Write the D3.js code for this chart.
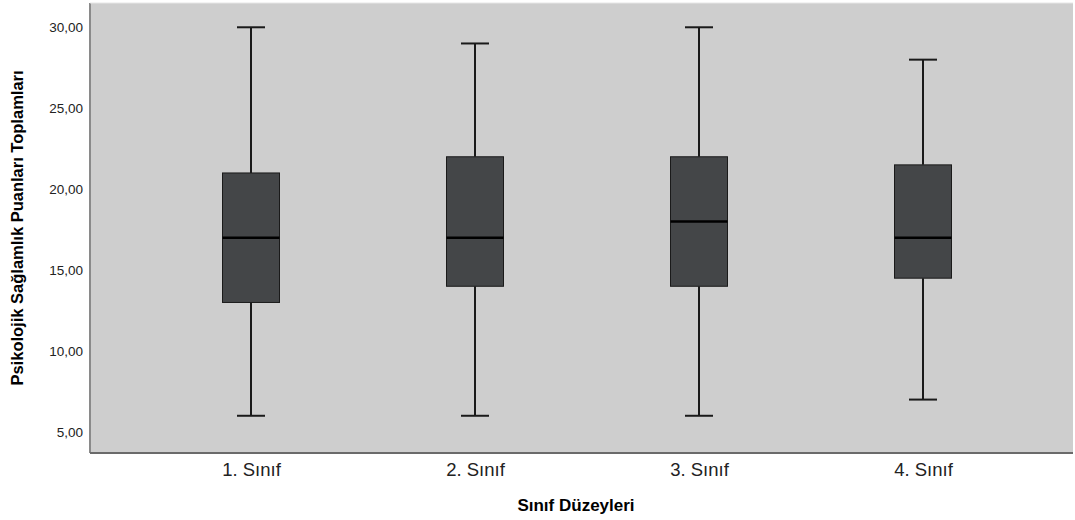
<!DOCTYPE html>
<style type="text/css">
  body { margin: 0; background: #fff; }
  text { font-family: "Liberation Sans", Arial, sans-serif; }
  .box { fill: #444648; stroke: #1a1a1a; stroke-width: 1; }
  .median { stroke: #000; stroke-width: 2.5; }
  .whisker { stroke: #1a1a1a; stroke-width: 2; }
</style>
<svg width="1075" height="520"></svg>
<script src="https://d3js.org/d3.v7.min.js"></script>
<script>

var groups = ["1. Sınıf", "2. Sınıf", "3. Sınıf", "4. Sınıf"];
var mins    = [6, 6, 6, 7];
var q1s     = [13, 14, 14, 14.5];
var medians = [17, 17, 18, 17];
var q3s     = [21, 22, 22, 21.5];
var maxs    = [30, 29, 30, 28];
var yTicks  = [5, 10, 15, 20, 25, 30];

var svg = d3.select("svg"),
    margin = {top: 3, right: 2, bottom: 67, left: 90},
    width = +svg.attr("width") - margin.left - margin.right,
    height = +svg.attr("height") - margin.top - margin.bottom,
    g = svg.append("g").attr("transform", "translate(" + margin.left + "," + margin.top + ")");

var data = groups.map(function(d, i) {
  return {name: d, min: mins[i], q1: q1s[i], med: medians[i], q3: q3s[i], max: maxs[i]};
});

var x = d3.scalePoint()
    .domain(groups)
    .range([161, 833]);

var y = d3.scaleLinear()
    .domain([3.7, 31.5])
    .range([height, 0]);

var boxW = 57, capW = 28;

// plot background
g.append("rect")
    .attr("width", width)
    .attr("height", height)
    .attr("fill", "#cecece");

var box = g.selectAll(".grp")
  .data(data)
  .enter().append("g")
    .attr("transform", function(d) { return "translate(" + x(d.name) + ",0)"; });

// whiskers
box.append("line").attr("class", "whisker")
    .attr("y1", function(d) { return y(d.max); })
    .attr("y2", function(d) { return y(d.q3); });
box.append("line").attr("class", "whisker")
    .attr("y1", function(d) { return y(d.q1); })
    .attr("y2", function(d) { return y(d.min); });
box.append("line").attr("class", "whisker")
    .attr("x1", -capW / 2).attr("x2", capW / 2)
    .attr("y1", function(d) { return y(d.max); })
    .attr("y2", function(d) { return y(d.max); });
box.append("line").attr("class", "whisker")
    .attr("x1", -capW / 2).attr("x2", capW / 2)
    .attr("y1", function(d) { return y(d.min); })
    .attr("y2", function(d) { return y(d.min); });

box.append("rect").attr("class", "box")
    .attr("x", -boxW / 2)
    .attr("width", boxW)
    .attr("y", function(d) { return y(d.q3); })
    .attr("height", function(d) { return y(d.q1) - y(d.q3); });

box.append("line").attr("class", "median")
    .attr("x1", -boxW / 2).attr("x2", boxW / 2)
    .attr("y1", function(d) { return y(d.med); })
    .attr("y2", function(d) { return y(d.med); });

// axes
var fmt = function(v) { return d3.format(".2f")(v).replace(".", ","); };

g.append("g")
    .call(d3.axisLeft(y).tickValues(yTicks).tickFormat(fmt).tickSize(0).tickPadding(7))
    .call(function(a) {
      a.select(".domain").remove();
      a.selectAll("text").attr("font-size", 13.5).attr("fill", "#222").style("font-family", "Liberation Sans, Arial, sans-serif");
    });

g.append("g")
    .attr("transform", "translate(0," + height + ")")
    .call(d3.axisBottom(x).tickSize(0).tickPadding(10))
    .call(function(a) {
      a.select(".domain").remove();
      a.selectAll("text").attr("font-size", 18.5).attr("fill", "#222").style("font-family", "Liberation Sans, Arial, sans-serif");
    });

g.append("line")
    .attr("x1", 0).attr("x2", 0).attr("y1", 0).attr("y2", height)
    .attr("stroke", "#8a8a8a").attr("stroke-width", 2);
g.append("line")
    .attr("x1", 0).attr("x2", width).attr("y1", height).attr("y2", height)
    .attr("stroke", "#6a6a6a").attr("stroke-width", 2);
g.append("line")
    .attr("x1", 0).attr("x2", width).attr("y1", 0).attr("y2", 0)
    .attr("stroke", "#e6e6e6").attr("stroke-width", 1);

// axis titles
svg.append("text")
    .attr("transform", "translate(23," + (margin.top + height / 2) + ") rotate(-90)")
    .attr("text-anchor", "middle")
    .attr("font-size", 16.5)
    .attr("font-weight", "bold")
    .text("Psikolojik Sağlamlık Puanları Toplamları");

svg.append("text")
    .attr("x", 576)
    .attr("y", 511)
    .attr("text-anchor", "middle")
    .attr("font-size", 17)
    .attr("font-weight", "bold")
    .text("Sınıf Düzeyleri");

</script>
